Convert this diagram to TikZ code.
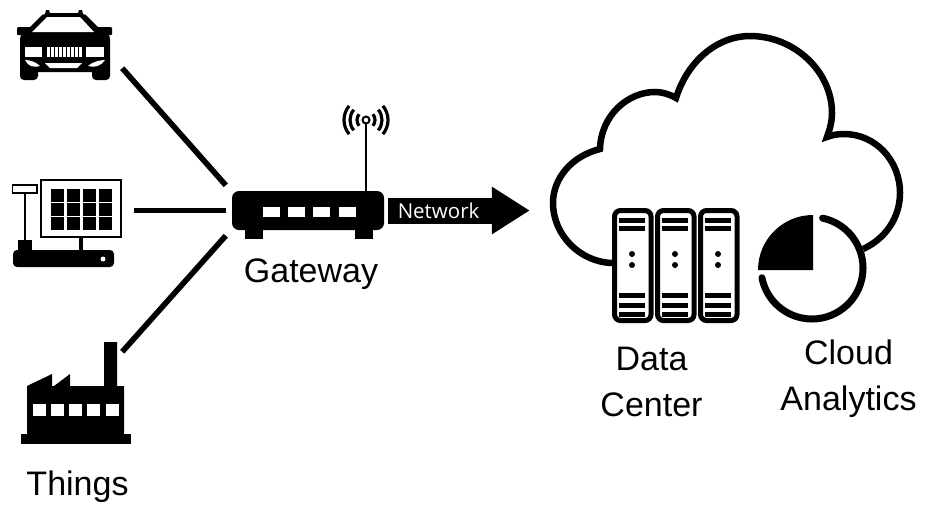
\documentclass[tikz,border=0pt]{standalone}
\usepackage{fontspec}
\setmainfont{Liberation Sans}
\newfontfamily\netfont{Open Sans}
\usetikzlibrary{arrows.meta}
\begin{document}
\begin{tikzpicture}
          [x=1pt,y=-1pt,line join=miter,
           anchorbox/.style={inner sep=0pt},
           link/.style={line width=5.6pt},
           caption/.style={font=\fontsize{34}{46}\selectfont,align=center,inner sep=0pt},
           pipe/.style={line width=26pt,-{Triangle[length=38pt,width=45pt]}}]
        \useasboundingbox (0,0) rectangle (925,504);

        % things
        \node[anchorbox,minimum width=112pt,minimum height=52pt] (car) at (66,42) {};
        \node[anchorbox,minimum width=121pt,minimum height=90pt] (till) at (73.5,210.5) {};
        \node[anchorbox,minimum width=102pt,minimum height=93pt] (factory) at (71,398.5) {};
        \node[anchorbox,minimum width=162pt,minimum height=50pt] (gateway) at (307,210.5) {};
        \node[anchorbox,minimum width=374pt,minimum height=360pt] (cloud) at (717,210.5) {};

        % car
        \fill (45,14) -- (46,10) -- (49,10) -- (50,13) -- (78,13) -- (79,10) -- (82,10) -- (83,14)
          -- (86,15) -- (101,30) -- (27,30) -- (42,15) -- cycle;
        \fill[rounded corners=1pt] (17,27) rectangle (112,35);
        \fill[rounded corners=7pt] (20,32) rectangle (110,72);
        \fill[rounded corners=4pt] (20,60) rectangle (38,80);
        \fill[rounded corners=4pt] (92,60) rectangle (110,80);
        \fill[white] (32,32) -- (47,17) -- (80,17) -- (94,32) -- cycle;
        \fill[white] (25,47) rectangle (42,57);
        \fill[white] (86,47) rectangle (104,57);
        \foreach \x in {47,51,...,79}
          \fill[white] (\x,47) rectangle (\x+2.8,57);
        \fill[white] (25,60) .. controls (30,60) and (36,62) .. (40,66) .. controls (33,68) and (28,66) .. (25,60) -- cycle;
        \fill[white] (105,60) .. controls (100,60) and (92,62) .. (88,66) .. controls (95,68) and (101,66) .. (105,60) -- cycle;
        \fill[white] (45,63) -- (82,63) -- (77,68) -- (50,68) -- cycle;

        % till
        \draw[line width=2.5pt,fill=white] (41,180) rectangle (121,237);
        \foreach \x in {51,67,83,99}
          \foreach \y in {189,203,217}
            \fill (\x,\y) rectangle (\x+12.5,\y+12.5);
        \fill (79,237) rectangle (83,251);
        \fill[rounded corners=4pt] (13,250) rectangle (114,267);
        \fill (18,240) rectangle (32,251);
        \fill (24.2,193) rectangle (25.8,241);
        \draw[line width=1.5pt,fill=white] (12.7,185) rectangle (37,193);
        \fill[white] (103,259) circle (2.5pt);

        % factory
        \fill (21,434) rectangle (131,444);
        \fill (27,386) -- (52,374) -- (52,386) -- (54,386) -- (70,374) -- (70,386) -- (104,386)
          -- (104,342) -- (117,342) -- (117,386) -- (124,386) -- (124,435) -- (27,435) -- cycle;
        \foreach \x in {33,51,69,87,106}
          \fill[white] (\x,404) rectangle (\x+13,416);

        % gateway
        \fill[rounded corners=7pt] (232,191) rectangle (384,230);
        \fill (245,228) rectangle (263,239);
        \fill (355,228) rectangle (373,239);
        \foreach \x in {263,288,313,339}
          \fill[white] (\x,207) rectangle (\x+17,217);
        \draw[line width=2pt] (366,191) -- (366,123.5);
        \draw[line width=2pt] (366,120) circle (3.5pt);
        \foreach \r in {9,16,22} {
          \draw[line width=3.2pt] (366,120) ++(40:\r pt) arc (40:-40:\r pt);
          \draw[line width=3.2pt] (366,120) ++(140:\r pt) arc (140:220:\r pt);
        }

        % cloud
        \draw[line width=6.5pt] (612,263) .. controls (580,262) and (553,235) .. (553,203)
          .. controls (553,178) and (572,156) .. (600,149)
          .. controls (601,115) and (628,92) .. (655,92)
          .. controls (662,92) and (669,94) .. (676,98)
          .. controls (688,60) and (718,36) .. (750,36)
          .. controls (795,36) and (832,72) .. (832,113)
          .. controls (832,121) and (830,129) .. (827,137)
          .. controls (832,135) and (838,134) .. (844,134)
          .. controls (875,134) and (900,160) .. (900,193)
          .. controls (900,218) and (885,239) .. (863,249);

        % data center
        \foreach \x in {612,655,698} {
          \draw[line width=5pt,fill=white,rounded corners=6pt] (\x+2.5,210.5) rectangle (\x+39,320.5);
          \foreach \y/\h in {218/5,226/5,293/5,303/4.5,312/5}
            \fill (\x+7,\y) rectangle (\x+33,\y+\h);
          \fill (\x+20,254) circle (3pt);
          \fill (\x+20,265) circle (3pt);
        }

        % analytics
        \fill (813,270) -- (758,270) arc (180:90:55pt) -- cycle;
        \draw[line width=7pt,line cap=round] (812,268) ++(78:51pt) arc (78:-169:51pt);

        % links
        \foreach \from/\to in {car.south east/gateway.north west, till.east/gateway.west, factory.north east/gateway.south west}
          \draw[link] (\from) -- (\to);
        \draw[pipe] (gateway.east) -- (cloud.west)
          node[pos=.356,text=white,font=\netfont\fontsize{20.5}{22}\selectfont,inner sep=0pt] (network) {Network};

        % captions
        \node[caption,anchor=base] (things) at (77.5,495) {Things};
        \node[caption,anchor=base] (gatewaytext) at (311,282) {Gateway};
        \node[caption] (datacenter) at (651.5,382) {Data\\Center};
        \node[caption] (analyticstext) at (848.5,379) {Cloud\\Analytics};
      \end{tikzpicture}
\end{document}
